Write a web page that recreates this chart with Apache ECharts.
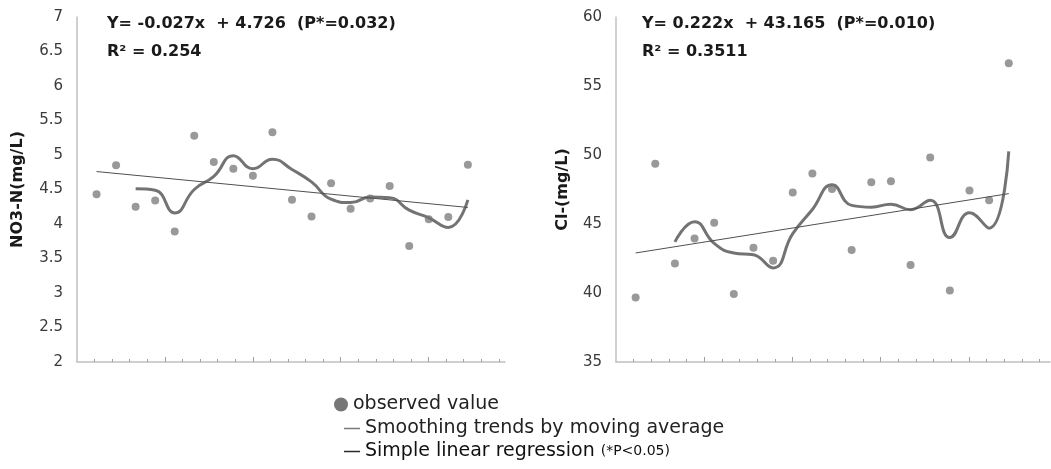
<!DOCTYPE html>
<html>
<head>
<meta charset="utf-8">
<script src="https://cdn.jsdelivr.net/npm/echarts@6/dist/echarts.min.js"></script>
<style>
html, body { margin: 0; padding: 0; background: #fff; }
#chart { width: 1051px; height: 469px; }
</style>
</head>
<body>
<div id="chart"></div>
<script>
// observation number, same for both panels
const obsIndex = [1, 2, 3, 4, 5, 6, 7, 8, 9, 10, 11, 12, 13, 14, 15, 16, 17, 18, 19, 20]

// NO3-N (mg/L)
const no3Observed = [4.43, 4.85, 4.25, 4.34, 3.89, 5.28, 4.90, 4.80, 4.70, 5.33, 4.35, 4.11, 4.59, 4.22, 4.37, 4.55, 3.68, 4.07, 4.10, 4.86]
const no3Smooth = [null, null, 4.51, 4.49, 4.16, 4.50, 4.69, 4.99, 4.80, 4.94, 4.79, 4.61, 4.36, 4.31, 4.39, 4.38, 4.20, 4.09, 3.95, 4.35]
const no3FitX = [1, 20]
const no3FitY = [4.76, 4.24]

// Cl- (mg/L)
const clObserved = [39.68, 49.36, 42.14, 43.95, 45.09, 39.92, 43.28, 42.34, 47.28, 48.66, 47.53, 43.11, 48.03, 48.10, 42.02, 49.82, 40.19, 47.43, 46.73, 56.65]
const clSmooth = [null, null, 43.70, 45.17, 43.60, 42.90, 42.77, 41.82, 44.30, 46.05, 47.84, 46.35, 46.22, 46.44, 46.04, 46.72, 44.02, 45.82, 44.70, 50.26]
const clFitX = [1, 20]
const clFitY = [42.9, 47.2]

// x-axis tick marks (no labels in the original)
const minorTicks = [1, 2, 3, 4, 6, 7, 8, 9, 11, 12, 13, 14, 16, 17, 18, 19, 21, 22, 23, 24]
const majorTicks = [5, 10, 15, 20]

const no3Ticks = { min: 2, max: 7, interval: 0.5 }
const clTicks = { min: 35, max: 60, interval: 5 }

const seriesNames = ['observed value', 'Smoothing trends by moving average', 'Simple linear regression']

const pairs = (xs, ys) => xs.map((x, i) => [x, ys[i]]).filter(p => p[1] !== null)

const axisGray = '#c0c0c0'
const baseFont = 'DejaVu Sans'

const tickAxis = (grid, max, ticks, len) => ({
  type: 'value',
  gridIndex: grid,
  position: 'bottom',
  min: 0,
  max: max,
  axisLine: { show: len === 3, lineStyle: { color: axisGray, width: 1.5 } },
  axisTick: { show: true, inside: true, length: len, customValues: ticks, lineStyle: { color: '#a0a0a0' } },
  axisLabel: { show: false },
  splitLine: { show: false }
})

const dataAxis = (grid, max) => ({
  type: 'value',
  gridIndex: grid,
  position: 'bottom',
  min: 0,
  max: max,
  show: false
})

const valueAxis = (grid, t, name, gap) => ({
  type: 'value',
  gridIndex: grid,
  min: t.min,
  max: t.max,
  interval: t.interval,
  name: name,
  nameLocation: 'middle',
  nameGap: gap,
  nameRotate: 90,
  nameTextStyle: { fontFamily: baseFont, fontSize: 16, fontWeight: 'bold', color: '#1a1a1a' },
  axisLine: { show: true, lineStyle: { color: axisGray, width: 1.5 } },
  axisTick: { show: false },
  axisLabel: { fontFamily: baseFont, fontSize: 15, color: '#3a3a3a', margin: 14 },
  splitLine: { show: false }
})

const panelSeries = (xIdx, yIdx, observed, smooth, fitX, fitY) => [
  {
    name: seriesNames[0],
    type: 'scatter',
    xAxisIndex: xIdx,
    yAxisIndex: yIdx,
    symbolSize: 8,
    itemStyle: { color: '#808080' },
    data: pairs(obsIndex, observed)
  },
  {
    name: seriesNames[1],
    type: 'line',
    xAxisIndex: xIdx,
    yAxisIndex: yIdx,
    smooth: 0.5,
    showSymbol: false,
    itemStyle: { color: '#7a7a7a' },
    lineStyle: { color: '#737373', width: 3 },
    data: pairs(obsIndex, smooth)
  },
  {
    name: seriesNames[2],
    type: 'line',
    xAxisIndex: xIdx,
    yAxisIndex: yIdx,
    showSymbol: false,
    itemStyle: { color: '#2a2a2a' },
    lineStyle: { color: '#505050', width: 1 },
    data: pairs(fitX, fitY)
  }
]

const titleText = (text, left, top) => ({
  text: text,
  left: left,
  top: top,
  padding: 0,
  textStyle: { fontFamily: baseFont, fontSize: 16, fontWeight: 'bold', color: '#1a1a1a' }
})

const legendText = { fontFamily: baseFont, fontSize: 19, color: '#222' }

const chart = echarts.init(document.getElementById('chart'))

const option = {
  animation: false,
  title: [
    titleText('Y= -0.027x  + 4.726  (P*=0.032)', 107, 16),
    titleText('R² = 0.254', 107, 44),
    titleText('Y= 0.222x  + 43.165  (P*=0.010)', 642, 16),
    titleText('R² = 0.3511', 642, 44)
  ],
  grid: [
    { left: 77, top: 17, width: 428, height: 345 },
    { left: 616, top: 17, width: 434, height: 345 }
  ],
  xAxis: [
    tickAxis(0, 24.35, minorTicks, 3),
    tickAxis(0, 24.35, majorTicks, 5),
    dataAxis(0, 21.9),
    tickAxis(1, 24.6, minorTicks, 3),
    tickAxis(1, 24.6, majorTicks, 5),
    dataAxis(1, 22.1)
  ],
  yAxis: [
    valueAxis(0, no3Ticks, 'NO3-N(mg/L)', 51),
    valueAxis(1, clTicks, 'Cl-(mg/L)', 45)
  ],
  legend: [
    {
      data: [{ name: seriesNames[0], itemStyle: { color: '#555' } }],
      left: 334, top: 395, padding: 0,
      icon: 'circle', itemWidth: 14, itemHeight: 14,
      selectedMode: false,
      textStyle: legendText
    },
    {
      data: [seriesNames[1]],
      left: 344, top: 419, padding: 0,
      icon: 'rect', itemWidth: 16, itemHeight: 1.5,
      selectedMode: false,
      textStyle: legendText
    },
    {
      data: [seriesNames[2]],
      left: 344, top: 442, padding: 0,
      icon: 'rect', itemWidth: 16, itemHeight: 1.5,
      selectedMode: false,
      formatter: name => '{a|' + name + '} {b|(*P<0.05)}',
      textStyle: {
        ...legendText,
        rich: {
          a: { fontFamily: baseFont, fontSize: 19, color: '#111' },
          b: { fontFamily: baseFont, fontSize: 14, color: '#111' }
        }
      }
    }
  ],
  series: [
    ...panelSeries(2, 0, no3Observed, no3Smooth, no3FitX, no3FitY),
    ...panelSeries(5, 1, clObserved, clSmooth, clFitX, clFitY)
  ]
}

chart.setOption(option)
</script>
</body>
</html>
